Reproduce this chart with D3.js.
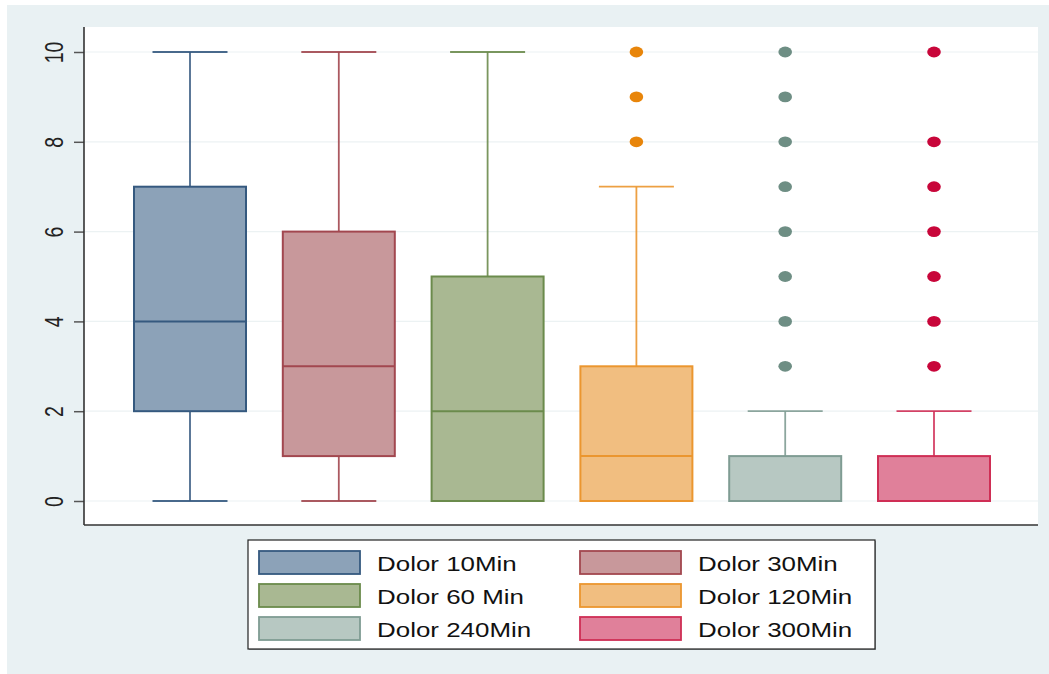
<!DOCTYPE html>
<html>
<head>
<meta charset="utf-8">
<script src="https://cdn.jsdelivr.net/npm/d3@7"></script>
<style>
  html, body { margin: 0; padding: 0; background: #ffffff; }
  svg { display: block; font-family: "Liberation Sans", Arial, Helvetica, sans-serif; }
</style>
</head>
<body>
<svg id="chart" width="1049" height="674"></svg>
<script>
// Pain score (0-10) by time after the procedure
const categories = ["Dolor 10Min", "Dolor 30Min", "Dolor 60 Min", "Dolor 120Min", "Dolor 240Min", "Dolor 300Min"];
const lowerWhisker = [0, 0, 0, 0, 0, 0];
const q1Values     = [2, 1, 0, 0, 0, 0];
const medians      = [4, 3, 2, 1, 0, 0];
const q3Values     = [7, 6, 5, 3, 1, 1];
const upperWhisker = [10, 10, 10, 7, 2, 2];
const outliers = [
  [],
  [],
  [],
  [8, 9, 10],
  [3, 4, 5, 6, 7, 8, 9, 10],
  [3, 4, 5, 6, 7, 8, 10]
];
const yTicks = [0, 2, 4, 6, 8, 10];

const fills   = ["#8ca2b8", "#c8989b", "#a9b892", "#f1be80", "#b7c8c2", "#e0809a"];
const strokes = ["#35597f", "#a2474f", "#6b8b4c", "#eb962f", "#7f9c93", "#cf2e55"];
const dotColors = ["#1a476f", "#90353b", "#55752f", "#e8850a", "#6e8e84", "#c8063a"];

const svg = d3.select("#chart");
const stretch = 1.33; // wide glyph proportions

// graph background
svg.append("rect").attr("x", 7).attr("y", 5).attr("width", 1042).attr("height", 669).attr("fill", "#e9f1f3");

const plot = { left: 84, right: 1038, top: 27, bottom: 525 };
svg.append("rect")
  .attr("x", plot.left).attr("y", plot.top)
  .attr("width", plot.right - plot.left).attr("height", plot.bottom - plot.top)
  .attr("fill", "#ffffff");

const y = d3.scaleLinear().domain([0, 10]).range([501, 52]);
const x = d3.scalePoint().domain(categories).range([190, 934]);
const boxW = 112, capW = 75;

// gridlines
svg.append("g").selectAll("line").data(yTicks).join("line")
  .attr("x1", plot.left).attr("x2", plot.right)
  .attr("y1", d => y(d)).attr("y2", d => y(d))
  .attr("stroke", "#ecf2f3").attr("stroke-width", 1.2);

// y axis
const yAxis = svg.append("g")
  .attr("transform", `translate(${plot.left},0)`)
  .call(d3.axisLeft(y).tickValues(yTicks).tickSize(10).tickFormat(d3.format("d")));
yAxis.select(".domain").remove();
yAxis.selectAll(".tick line").attr("stroke", "#555").attr("stroke-width", 1.5);
yAxis.selectAll(".tick text")
  .attr("x", null).attr("dy", null)
  .attr("text-anchor", "middle")
  .attr("font-size", 19.5)
  .attr("fill", "#222")
  .attr("transform", `translate(-21,0) rotate(-90) scale(1,${stretch})`);

// axis lines
svg.append("line").attr("x1", plot.left).attr("x2", plot.left).attr("y1", plot.top).attr("y2", plot.bottom)
  .attr("stroke", "#333").attr("stroke-width", 1.6);
svg.append("line").attr("x1", plot.left).attr("x2", plot.right).attr("y1", plot.bottom).attr("y2", plot.bottom)
  .attr("stroke", "#333").attr("stroke-width", 1.6);

// boxes
const boxes = svg.append("g").selectAll("g").data(categories).join("g");
boxes.each(function (c, i) {
  const g = d3.select(this);
  const cx = x(c);
  // whiskers
  g.append("line").attr("x1", cx).attr("x2", cx).attr("y1", y(upperWhisker[i])).attr("y2", y(q3Values[i]))
    .attr("stroke", strokes[i]).attr("stroke-width", 1.8).attr("stroke-opacity", 0.9);
  g.append("line").attr("x1", cx).attr("x2", cx).attr("y1", y(q1Values[i])).attr("y2", y(lowerWhisker[i]))
    .attr("stroke", strokes[i]).attr("stroke-width", 1.8).attr("stroke-opacity", 0.9);
  [upperWhisker[i], lowerWhisker[i]].forEach(v => {
    if (v === q1Values[i]) return;
    g.append("line").attr("x1", cx - capW / 2).attr("x2", cx + capW / 2).attr("y1", y(v)).attr("y2", y(v))
      .attr("stroke", strokes[i]).attr("stroke-width", 1.8).attr("stroke-opacity", 0.9);
  });
  // box
  g.append("rect")
    .attr("x", cx - boxW / 2).attr("y", y(q3Values[i]))
    .attr("width", boxW).attr("height", y(q1Values[i]) - y(q3Values[i]))
    .attr("fill", fills[i]).attr("stroke", strokes[i]).attr("stroke-width", 2);
  // median
  g.append("line").attr("x1", cx - boxW / 2).attr("x2", cx + boxW / 2)
    .attr("y1", y(medians[i])).attr("y2", y(medians[i]))
    .attr("stroke", strokes[i]).attr("stroke-width", 2);
  // outside values
  g.selectAll("ellipse").data(outliers[i]).join("ellipse")
    .attr("cx", cx).attr("cy", d => y(d))
    .attr("rx", 6.8).attr("ry", 5.4)
    .attr("fill", dotColors[i]);
});

// legend
const legend = svg.append("g");
legend.append("rect").attr("x", 249).attr("y", 541).attr("width", 627).attr("height", 109)
  .attr("fill", "#9aa0a3");
legend.append("rect").attr("x", 248).attr("y", 540).attr("width", 627).attr("height", 109)
  .attr("fill", "#ffffff").attr("stroke", "#222").attr("stroke-width", 1.2);

const legendCols = [259, 580];
const items = legend.selectAll("g").data(categories).join("g")
  .attr("transform", (d, i) => `translate(${legendCols[i % 2]},${551 + Math.floor(i / 2) * 33})`);
items.append("rect")
  .attr("x", 0).attr("y", 0).attr("width", 101).attr("height", 23)
  .attr("fill", (d, i) => fills[i]).attr("stroke", (d, i) => strokes[i]).attr("stroke-width", 1.8);
items.append("text")
  .attr("transform", `translate(118,19.5) scale(${stretch},1)`)
  .attr("font-size", 19.5)
  .attr("fill", "#111")
  .text(d => d);
</script>
</body>
</html>
